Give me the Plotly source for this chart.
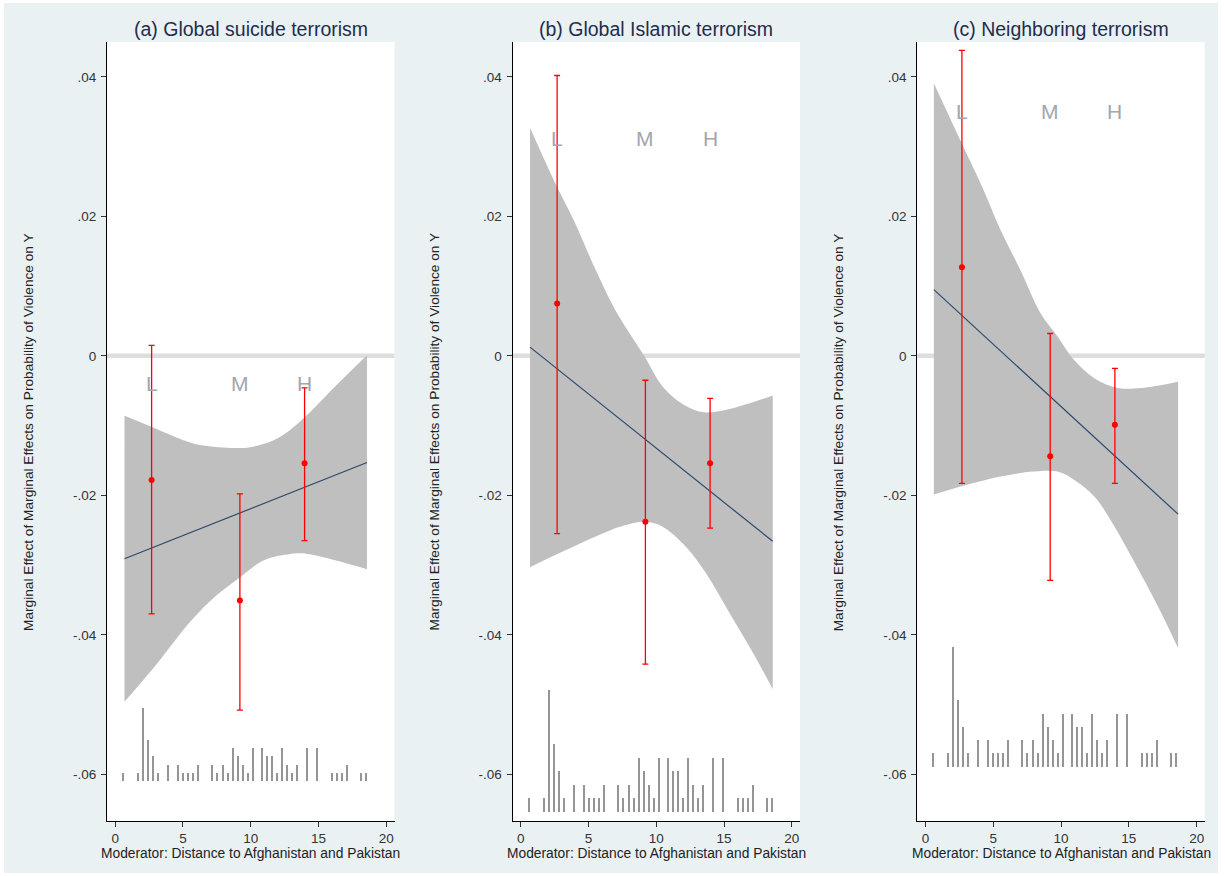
import plotly.graph_objects as go

W, H = 1225, 876

# ---------------- data ----------------
panel_titles = ["(a) Global suicide terrorism", "(b) Global Islamic terrorism", "(c) Neighboring terrorism"]
x_title = "Moderator: Distance to Afghanistan and Pakistan"
y_title = "Marginal Effect of Marginal Effects on Probability of Violence on Y"

x_ticks = [0, 5, 10, 15, 20]
y_tick_vals = [0.04, 0.02, 0, -0.02, -0.04, -0.06]
y_tick_text = [".04", ".02", "0", "-.02", "-.04", "-.06"]

lmh_labels = ["L", "M", "H"]
lmh_x = [2.69, 9.2, 13.97]

# panel (a)
a_est = [-0.0178, -0.0351, -0.0154]
a_lo = [-0.0370, -0.0508, -0.0265]
a_hi = [0.0015, -0.0198, -0.0046]
a_line_x = [0.69, 18.57]
a_line_y = [-0.0291, -0.0153]
a_upper_x = [0.69, 2.58, 5.04, 6.27, 8.49, 9.96, 11.69, 12.92, 14.15, 16.11, 18.57]
a_upper_y = [-0.0086, -0.0101, -0.0121, -0.0128, -0.0132, -0.0131, -0.0121, -0.0106, -0.0085, -0.0046, 0.0001]
a_lower_x = [0.69, 3.1, 5.55, 7.5, 9.25, 10.97, 12.94, 14.17, 16.6, 18.57]
a_lower_y = [-0.0496, -0.0441, -0.0381, -0.0343, -0.0317, -0.0293, -0.0284, -0.0284, -0.0295, -0.0306]
a_label_y = -0.0039

# panel (b)
b_est = [0.0075, -0.0238, -0.0154]
b_lo = [-0.0255, -0.0442, -0.0247]
b_hi = [0.0402, -0.0035, -0.0061]
b_line_x = [0.69, 18.59]
b_line_y = [0.00125, -0.0266]
b_upper_x = [0.69, 2.66, 3.90, 5.63, 7.11, 9.08, 10.56, 12.04, 13.53, 15.26, 18.59]
b_upper_y = [0.0327, 0.0243, 0.0195, 0.0119, 0.0061, 0.0001, -0.0046, -0.0070, -0.0081, -0.0077, -0.0057]
b_lower_x = [0.69, 3.06, 5.53, 7.5, 9.23, 10.47, 12.2, 13.68, 15.41, 17.14, 18.59]
b_lower_y = [-0.0303, -0.0281, -0.0259, -0.0244, -0.0238, -0.0245, -0.0274, -0.0312, -0.0369, -0.0426, -0.0478]
b_label_y = 0.0312

# panel (c)
c_est = [0.0127, -0.0144, -0.0099]
c_lo = [-0.0183, -0.0322, -0.0183]
c_hi = [0.0438, 0.0032, -0.0018]
c_line_x = [0.62, 18.63]
c_line_y = [0.0095, -0.0227]
c_upper_x = [0.62, 2.67, 4.28, 5.52, 7.0, 8.49, 9.73, 10.96, 12.45, 14.18, 15.91, 18.63]
c_upper_y = [0.0391, 0.0305, 0.0238, 0.0181, 0.0123, 0.0061, 0.0028, -0.0006, -0.0032, -0.0046, -0.0046, -0.0037]
c_lower_x = [0.62, 3.06, 5.53, 8.0, 9.75, 10.98, 12.47, 13.95, 15.44, 17.17, 18.63]
c_lower_y = [-0.0199, -0.0185, -0.0173, -0.0166, -0.0166, -0.0178, -0.0202, -0.0245, -0.0297, -0.0360, -0.0419]
c_label_y = 0.0350

# moderator distribution (counts, shared by all panels)
hist_x = [0.62, 1.70, 2.07, 2.44, 2.81, 3.18, 3.93, 4.67, 5.04, 5.41, 5.77, 6.12, 7.19, 7.56, 7.93,
          8.30, 8.67, 9.06, 9.43, 9.80, 10.15, 10.86, 11.23, 11.60, 11.95, 12.32, 12.69, 13.06,
          13.40, 14.15, 14.91, 16.0, 16.37, 16.74, 17.08, 18.17, 18.54]
hist_n = [1, 1, 9, 5, 3, 1, 2, 2, 1, 1, 1, 2, 2, 1, 2, 1, 4, 3, 2, 1, 4, 4, 3, 3, 1, 4, 2, 1, 2,
          4, 4, 1, 1, 1, 2, 1, 1]

# histogram placement (baseline, height per count) per panel
hist_base = [-0.0609, -0.0654, -0.0589]
hist_unit = [0.00115, 0.00195, 0.0019]

panels = [
    dict(est=a_est, lo=a_lo, hi=a_hi, lx=a_line_x, ly=a_line_y, ux=a_upper_x, uy=a_upper_y,
         dx=a_lower_x, dy=a_lower_y, laby=a_label_y),
    dict(est=b_est, lo=b_lo, hi=b_hi, lx=b_line_x, ly=b_line_y, ux=b_upper_x, uy=b_upper_y,
         dx=b_lower_x, dy=b_lower_y, laby=b_label_y),
    dict(est=c_est, lo=c_lo, hi=c_hi, lx=c_line_x, ly=c_line_y, ux=c_upper_x, uy=c_upper_y,
         dx=c_lower_x, dy=c_lower_y, laby=c_label_y),
]

# ---------------- layout geometry (pixels) ----------------
x_left_px = [107, 512.5, 917.3]
plot_w_px = 287.5
y_top_px, y_bot_px = 42, 821
x_range = [-0.6, 20.6]
y_range = [-0.0667, 0.0450]

BG = "#EAF1F3"
FONT = "Arial, Liberation Sans, sans-serif"
TITLE_COL = "#1f2d4d"
LABEL_COL = "#a2a6ad"

fig = go.Figure()
annotations = []
shapes = []

for i, p in enumerate(panels):
    xa = "x" if i == 0 else f"x{i+1}"
    ya = "y" if i == 0 else f"y{i+1}"

    # confidence band
    fig.add_trace(go.Scatter(x=p["ux"], y=p["uy"], mode="lines", line=dict(width=0, shape="spline", color="#bfbfbf"),
                             xaxis=xa, yaxis=ya, showlegend=False, hoverinfo="skip"))
    fig.add_trace(go.Scatter(x=p["dx"], y=p["dy"], mode="lines", line=dict(width=0, shape="spline", color="#bfbfbf"),
                             fill="tonexty", fillcolor="#bfbfbf",
                             xaxis=xa, yaxis=ya, showlegend=False, hoverinfo="skip"))
    # marginal effect line
    fig.add_trace(go.Scatter(x=p["lx"], y=p["ly"], mode="lines", line=dict(width=1.2, color="#2d4a6b"),
                             xaxis=xa, yaxis=ya, showlegend=False))
    # histogram of moderator
    fig.add_trace(go.Bar(x=hist_x, y=[n * hist_unit[i] for n in hist_n], base=hist_base[i], width=0.1,
                         marker=dict(color="#959595", line=dict(width=0)),
                         xaxis=xa, yaxis=ya, showlegend=False))
    # binned estimates
    fig.add_trace(go.Scatter(
        x=lmh_x, y=p["est"], mode="markers",
        marker=dict(color="#ff0000", size=6, symbol="circle"),
        error_y=dict(type="data", symmetric=False,
                     array=[h - e for h, e in zip(p["hi"], p["est"])],
                     arrayminus=[e - l for e, l in zip(p["est"], p["lo"])],
                     color="#ff0000", thickness=1.3, width=3),
        xaxis=xa, yaxis=ya, showlegend=False))

    # zero line
    shapes.append(dict(type="line", xref=f"{xa} domain", yref=ya, x0=0, x1=1, y0=0, y1=0,
                       line=dict(color="#dedede", width=4.5), layer="below"))

    # L M H labels
    for lab, lx in zip(lmh_labels, lmh_x):
        annotations.append(dict(x=lx, y=p["laby"], xref=xa, yref=ya, text=lab, showarrow=False,
                                font=dict(family=FONT, size=21, color=LABEL_COL)))

    x0 = x_left_px[i] / W
    x1 = (x_left_px[i] + plot_w_px) / W
    xc = (x0 + x1) / 2
    axis_common = dict(showline=True, linecolor="black", linewidth=1, ticks="outside", ticklen=5,
                       tickcolor="#333333", tickwidth=1, showgrid=False, zeroline=False,
                       tickfont=dict(family=FONT, size=13.5, color="#333333"), fixedrange=True)
    fig.layout[f"xaxis{'' if i == 0 else i+1}"] = dict(
        domain=[x0, x1], anchor=ya, range=x_range, tickvals=x_ticks, ticklabelstandoff=0, **axis_common)
    fig.layout[f"yaxis{'' if i == 0 else i+1}"] = dict(
        domain=[1 - y_bot_px / H, 1 - y_top_px / H], anchor=xa, range=y_range,
        tickvals=y_tick_vals, ticktext=y_tick_text, ticklabelstandoff=2, **axis_common)

    # panel title
    annotations.append(dict(x=xc, y=1 - 29 / H, xref="paper", yref="paper", text=panel_titles[i],
                            showarrow=False, xanchor="center", yanchor="middle",
                            font=dict(family=FONT, size=19.5, color=TITLE_COL)))
    # x title
    annotations.append(dict(x=xc, y=1 - 853 / H, xref="paper", yref="paper", text=x_title,
                            showarrow=False, xanchor="center", yanchor="middle",
                            font=dict(family=FONT, size=13.8, color="#222222")))
    # y title
    annotations.append(dict(x=(x_left_px[i] - 79) / W, y=1 - 432 / H, xref="paper", yref="paper", text=y_title,
                            textangle=-90, showarrow=False, xanchor="center", yanchor="middle",
                            font=dict(family=FONT, size=13.7, color="#222222")))

# white outer border strips
for (sx0, sx1, sy0, sy1) in [(0, 4, 0, H), (1218, W, 0, H), (0, W, 0, 3), (0, W, 873, H)]:
    shapes.append(dict(type="rect", xref="paper", yref="paper", x0=sx0 / W, x1=sx1 / W,
                       y0=1 - sy1 / H, y1=1 - sy0 / H, fillcolor="white", line=dict(width=0), layer="above"))

fig.update_layout(
    width=W, height=H, margin=dict(l=0, r=0, t=0, b=0),
    paper_bgcolor=BG, plot_bgcolor="white",
    annotations=annotations, shapes=shapes, showlegend=False, bargap=0,
)

fig.write_html("out.html", config={"displayModeBar": False},
               post_script="document.body.style.margin='0';")
